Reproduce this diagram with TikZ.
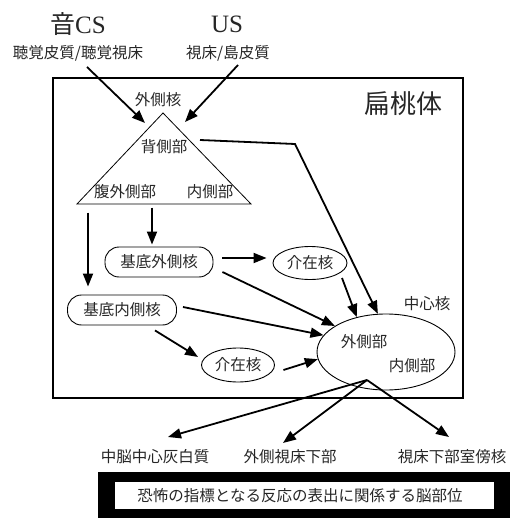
\documentclass[tikz,border=0pt]{standalone}
\usepackage{fontspec}
\setmainfont{Noto Sans CJK JP}
\newfontfamily\lat{Liberation Serif}
\usetikzlibrary{arrows.meta,shapes.geometric,calc}
\begin{document}
\begin{tikzpicture}[x=1pt,y=-1pt,
  lbl/.style={inner sep=0pt, text=black!85, font=\fontsize{15.5}{18}\selectfont},
  big/.style={inner sep=0pt, text=black!85, font=\fontsize{25}{30}\selectfont},
  arr/.style={line width=1.8pt, -{Triangle[length=13pt,width=10pt]}},
  rbox/.style={draw, line width=0.9pt, rounded corners=14pt, minimum height=30pt, lbl},
  ell/.style={draw, ellipse, line width=0.9pt, lbl, inner sep=0pt},
]
\useasboundingbox (0,0) rectangle (516,518);

% inputs
\node[big] (cs) at (78,24) {音{\lat CS}};
\node[big] (us) at (227,24) {{\lat US}};
\node[lbl] (cssrc) at (78,53) {聴覚皮質/聴覚視床};
\node[lbl] (ussrc) at (228,53) {視床/島皮質};

% amygdala frame
\node[draw, line width=2pt, minimum width=410pt, minimum height=320pt, inner sep=0pt] (amy) at (258,238) {};
\node[inner sep=0pt, text=black!85, font=\fontsize{26}{30}\selectfont] (amyl) at (403,104) {扁桃体};

% lateral nucleus triangle
\coordinate (ta) at (163,113);
\coordinate (tl) at (77,204);
\coordinate (tr) at (251,204);
\draw[line width=0.8pt] (ta) -- (tl) -- (tr) -- cycle;
\node[lbl] (latn) at (158,100) {外側核};
\node[lbl] (dors) at (164,147) {背側部};
\node[lbl] (vl) at (125,192) {腹外側部};
\node[lbl] (med) at (210,192) {内側部};

% nuclei
\node[rbox, minimum width=108pt] (bla) at (159,262) {基底外側核};
\node[rbox, minimum width=109pt] (bma) at (122,310) {基底内側核};
\node[ell, minimum width=74pt, minimum height=33pt] (in1) at (310,263) {介在核};
\node[ell, minimum width=73pt, minimum height=34pt] (in2) at (238,365) {介在核};
\node[draw, ellipse, line width=0.9pt, minimum width=138pt, minimum height=76pt, inner sep=0pt] (cen) at (386,352) {};
\node[lbl] (cenl) at (364,342) {外側部};
\node[lbl] (cenm) at (412,366) {内側部};
\node[lbl] (cenn) at (427,304) {中心核};

% outputs
\node[lbl] (n1) at (155,457) {中脳中心灰白質};
\node[lbl] (n2) at (290,457) {外側視床下部};
\node[lbl] (n3) at (452,457) {視床下部室傍核};
\node[fill=black, minimum width=412pt, minimum height=46pt, inner sep=0pt] (bar) at (304,495) {};
\node[fill=white, minimum width=379pt, minimum height=27pt, inner sep=0pt] (foot) at (304.5,495.5) {};
\node[lbl] (foott) at (300,496) {恐怖の指標となる反応の表出に関係する脳部位};

% connectors
\draw[arr] ([shift={(9pt,-14pt)}]cssrc.center) -- ([shift={(-18pt,-10pt)}]ta);
\draw[arr] ([shift={(10pt,-12pt)}]ussrc.center) -- ([shift={(22pt,-9pt)}]ta);
\coordinate (bend) at (295,144);
\draw[arr] ([shift={(36pt,7pt)}]dors.center) -- (bend) -- (cen.102);
\draw[arr] ([xshift=-7pt,yshift=39pt]bla.north) -- ([xshift=-7pt,yshift=2pt]bla.north);
\draw[arr] ([xshift=-34pt,yshift=82pt]bma.north) -- ([xshift=-34pt,yshift=8pt]bma.north);
\draw[arr] ([shift={(9pt,4pt)}]bla.east) -- ([shift={(-6pt,5pt)}]in1.west);
\draw[arr] ([shift={(9pt,-10pt)}]bla.east) -- (cen.153);
\draw[arr] ([shift={(6pt,3pt)}]bma.east) -- (cen.165);
\draw[arr] ([shift={(33pt,-5pt)}]bma.south) -- ([shift={(-3pt,8pt)}]in2.west);
\draw[arr] ([shift={(8.5pt,-5pt)}]in2.east) -- (cen.186);
\draw[arr] ([shift={(32pt,-15pt)}]in1.center) -- (cen.130);
\coordinate (hub) at (367,380);
\draw[arr] (hub) -- ([shift={(13pt,20pt)}]n1.center);
\draw[arr] (hub) -- ([shift={(-7pt,14pt)}]n2.center);
\draw[arr] (hub) -- ([shift={(-3pt,20pt)}]n3.center);
\end{tikzpicture}
\end{document}
